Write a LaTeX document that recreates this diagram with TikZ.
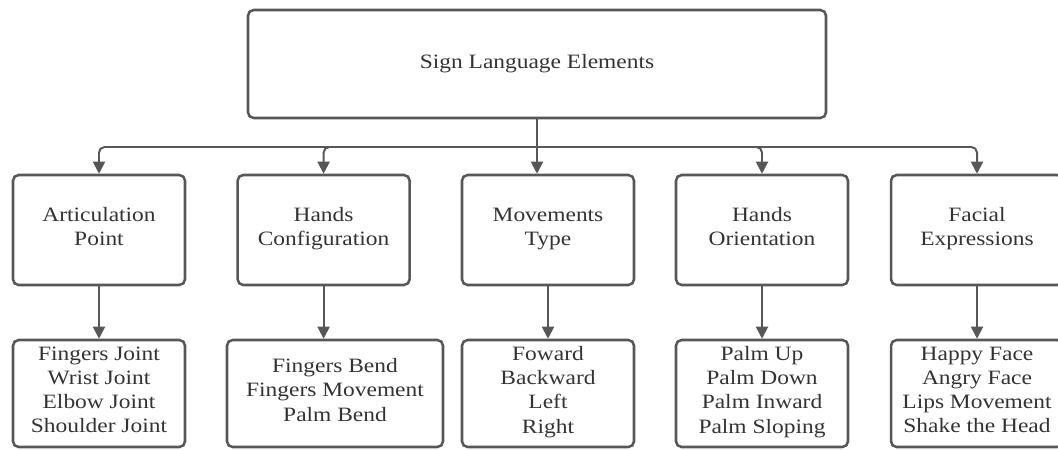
\documentclass[tikz,border=0pt]{standalone}
\usepackage{fontspec}
\setmainfont{Liberation Serif}[FakeStretch=1.15]
\usetikzlibrary{arrows.meta}
\definecolor{edgegray}{HTML}{575757}
\definecolor{textgray}{HTML}{333333}
\tikzset{
    elbox/.style={draw=edgegray, line width=1.8pt, rounded corners=4pt, align=center,
        text=textgray, inner sep=0pt, font=\fontsize{14.5}{17.1}\selectfont,
        execute at begin node=\strut, execute at end node=\strut},
    midbox/.style={elbox, minimum width=4.3cm, minimum height=2.75cm},
    lowbox/.style={elbox, minimum width=4.3cm, minimum height=2.675cm},
    link/.style={draw=edgegray, line width=1.4pt, rounded corners=4pt,
        -{Triangle[width=0.3cm, length=0.3cm]}}
}
\begin{document}
\begin{tikzpicture}
    \clip (0,0) rectangle (26.45, 11.225);

    % Root
    \node[elbox, minimum width=14.45cm, minimum height=2.7cm] (root) at (13.425, 9.625) {Sign Language Elements};
    \coordinate (hub) at (13.425, 7.55);

    % Elements
    \node[midbox] (artic) at (2.475, 5.475) {Articulation\\Point};
    \node[midbox] (config) at (8.09, 5.475) {Hands\\Configuration};
    \node[midbox] (moves) at (13.7, 5.475) {Movements\\Type};
    \node[midbox] (orient) at (19.05, 5.475) {Hands\\Orientation};
    \node[midbox] (facial) at (24.425, 5.475) {Facial\\Expressions};

    % Details
    \node[lowbox] (articList) at (2.475, 1.3875) {Fingers Joint\\Wrist Joint\\Elbow Joint\\Shoulder Joint};
    \node[lowbox, minimum width=5.4cm] (configList) at (8.375, 1.3875) {Fingers Bend\\Fingers Movement\\Palm Bend};
    \node[lowbox] (movesList) at (13.7, 1.3875) {Foward\\Backward\\Left\\Right};
    \node[lowbox] (orientList) at (19.05, 1.3875) {Palm Up\\Palm Down\\Palm Inward\\Palm Sloping};
    \node[lowbox] (facialList) at (24.425, 1.3875) {Happy Face\\Angry Face\\Lips Movement\\Shake the Head};

    % Root to elements
    \draw[link] (root.south) -- (root.south |- moves.north);
    \draw[link] (hub) -| (artic.north);
    \draw[link] (hub) -| (config.north);
    \draw[link] (hub) -| (orient.north);
    \draw[link] (hub) -| (facial.north);

    % Elements to details
    \draw[link] (artic.south) -- (articList.north);
    \draw[link] (config.south) -- (config.south |- configList.north);
    \draw[link] (moves.south) -- (movesList.north);
    \draw[link] (orient.south) -- (orientList.north);
    \draw[link] (facial.south) -- (facialList.north);

\end{tikzpicture}
\end{document}
